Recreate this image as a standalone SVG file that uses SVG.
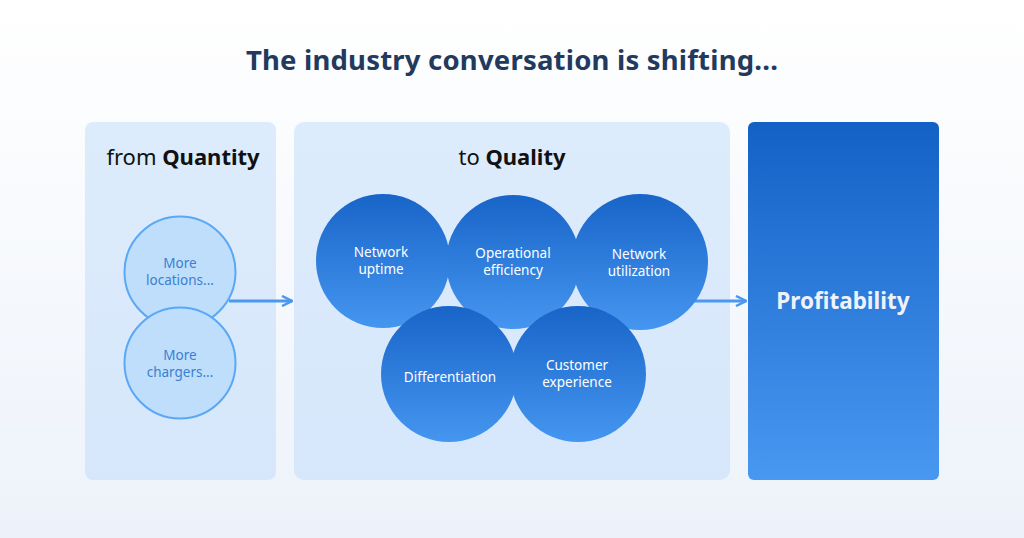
<svg xmlns="http://www.w3.org/2000/svg" width="1024" height="538" viewBox="0 0 1024 538">
<defs>
<linearGradient id="bg" x1="0" y1="0" x2="0" y2="1"><stop offset="0" stop-color="#ffffff"/><stop offset="1" stop-color="#edf2fa"/></linearGradient>
<linearGradient id="panel" x1="0" y1="0" x2="0" y2="1"><stop offset="0" stop-color="#ddecfc"/><stop offset="1" stop-color="#d6e7fb"/></linearGradient>
<linearGradient id="blue" x1="0" y1="0" x2="0" y2="1"><stop offset="0" stop-color="#1461c6"/><stop offset="1" stop-color="#4898f1"/></linearGradient>
<linearGradient id="circ" x1="0" y1="0" x2="0" y2="1"><stop offset="0" stop-color="#1864c8"/><stop offset="1" stop-color="#4596f0"/></linearGradient>
<marker id="ah" viewBox="0 0 12 12" refX="11" refY="6" markerWidth="12" markerHeight="12" markerUnits="userSpaceOnUse" orient="auto">
<path d="M1,1 L11,6 L1,11" fill="none" stroke="#4a98f0" stroke-width="2.5"/>
</marker>
</defs>
<style>
.panel{fill:url(#panel)}
.lc{fill:#bfdefc;stroke:#5aa8f5;stroke-width:2}
.lt{font-family:"Noto Sans",sans-serif;font-size:13.5px;fill:#3a7fd2;text-anchor:middle}
.qc{fill:url(#circ)}
.qt{font-family:"Noto Sans",sans-serif;font-size:13.5px;fill:#ffffff;text-anchor:middle}
.head{font-family:"Noto Sans",sans-serif;font-size:22px;fill:#111111;text-anchor:middle}
.arrow{stroke:#4a98f0;stroke-width:3;fill:none}
</style>
<rect width="1024" height="538" fill="url(#bg)"/>
<text x="512" y="70" font-family="Noto Sans, sans-serif" font-size="27.5" font-weight="bold" letter-spacing="0.2" fill="#223a5e" text-anchor="middle">The industry conversation is shifting...</text>

<g id="panel-quantity">
<rect class="panel" x="85" y="122" width="191" height="358" rx="8"/>
<text class="head" x="183" y="165">from <tspan font-weight="bold">Quantity</tspan></text>
</g>
<g id="panel-quality">
<rect class="panel" x="294" y="122" width="436" height="358" rx="10"/>
<text class="head" x="512" y="165">to <tspan font-weight="bold">Quality</tspan></text>
</g>

<g id="connectors">
<line class="arrow" x1="229" y1="301" x2="292" y2="301" marker-end="url(#ah)"/>
<line class="arrow" x1="690" y1="301" x2="746" y2="301" marker-end="url(#ah)"/>
</g>

<g id="more-locations">
<circle class="lc" cx="180" cy="272" r="55.5"/>
<text class="lt" x="180" y="268">More<tspan x="180" dy="17">locations...</tspan></text>
</g>
<g id="more-chargers">
<circle class="lc" cx="180" cy="363" r="55.5"/>
<text class="lt" x="180" y="360">More<tspan x="180" dy="17">chargers...</tspan></text>
</g>

<g id="network-uptime">
<circle class="qc" cx="383" cy="261" r="67"/>
<text class="qt" x="381" y="257">Network<tspan x="381" dy="17">uptime</tspan></text>
</g>
<g id="operational-efficiency">
<circle class="qc" cx="513" cy="262" r="67"/>
<text class="qt" x="513" y="258">Operational<tspan x="513" dy="17">efficiency</tspan></text>
</g>
<g id="network-utilization">
<circle class="qc" cx="640" cy="262" r="68"/>
<text class="qt" x="639" y="259">Network<tspan x="639" dy="17">utilization</tspan></text>
</g>
<g id="differentiation">
<circle class="qc" cx="449" cy="374" r="68"/>
<text class="qt" x="450" y="382">Differentiation</text>
</g>
<g id="customer-experience">
<circle class="qc" cx="578" cy="374" r="68"/>
<text class="qt" x="577" y="370">Customer<tspan x="577" dy="17">experience</tspan></text>
</g>

<g id="profitability">
<rect x="748" y="122" width="191" height="358" rx="6" fill="url(#blue)"/>
<text x="843" y="309" font-family="Noto Sans, sans-serif" font-size="22.5" font-weight="bold" fill="#eef3fb" text-anchor="middle">Profitability</text>
</g>
</svg>
